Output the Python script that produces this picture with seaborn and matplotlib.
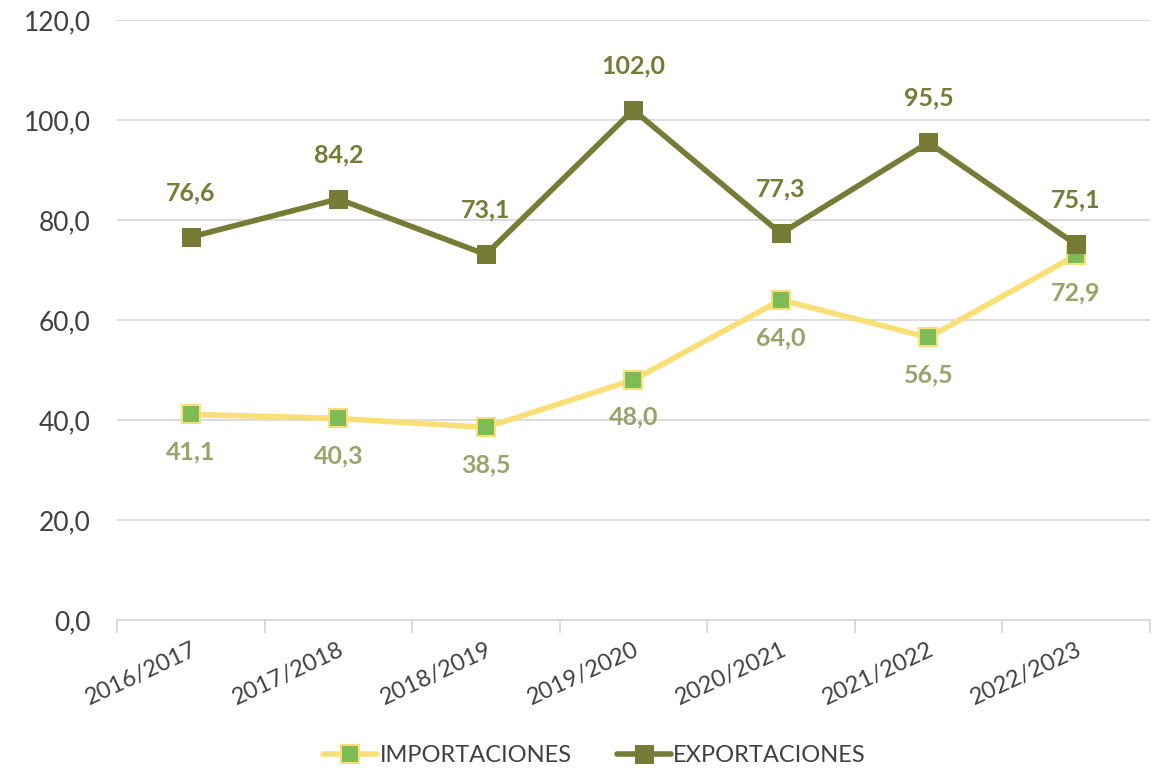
import pandas as pd
import numpy as np
import seaborn as sns
import matplotlib.pyplot as plt

campanas = ['2016/2017', '2017/2018', '2018/2019', '2019/2020',
            '2020/2021', '2021/2022', '2022/2023']
importaciones = [41.1, 40.3, 38.5, 48.0, 64.0, 56.5, 72.9]
exportaciones = [76.6, 84.2, 73.1, 102.0, 77.3, 95.5, 75.1]

df = pd.DataFrame({'campana': campanas,
                   'IMPORTACIONES': importaciones,
                   'EXPORTACIONES': exportaciones})

sns.set_theme(style='white')
plt.rcParams['font.family'] = ['Lato', 'DejaVu Sans']

fig, ax = plt.subplots(figsize=(11.59, 7.70), dpi=100)
fig.subplots_adjust(left=0.101, right=0.992, top=0.974, bottom=0.195)

sns.lineplot(data=df, x='campana', y='IMPORTACIONES', ax=ax, color='#F9DF75',
             linewidth=4, marker='s', markersize=13, markerfacecolor='#7CBB55',
             markeredgecolor='#F9DF75', markeredgewidth=1.5, label='IMPORTACIONES',
             zorder=3)
sns.lineplot(data=df, x='campana', y='EXPORTACIONES', ax=ax, color='#767B35',
             linewidth=4, marker='s', markersize=13, markerfacecolor='#767B35',
             markeredgecolor='#767B35', label='EXPORTACIONES', zorder=4)

for i, v in enumerate(importaciones):
    ax.annotate(f'{v:.1f}'.replace('.', ','), (i, v), xytext=(0, -27),
                textcoords='offset points', ha='center', va='center',
                fontsize=18, fontweight='bold', color='#9AA46A')
for i, v in enumerate(exportaciones):
    ax.annotate(f'{v:.1f}'.replace('.', ','), (i, v), xytext=(0, 32),
                textcoords='offset points', ha='center', va='center',
                fontsize=18, fontweight='bold', color='#767B35')

ax.set_ylim(0, 120)
ax.set_xlim(-0.5, 6.5)
ax.set_yticks(np.arange(0, 121, 20))
ax.set_yticklabels([f'{t:.1f}'.replace('.', ',') for t in np.arange(0, 121, 20)],
                   fontsize=19, color='#404040')
ax.yaxis.grid(True, color='#D9D9D9', linewidth=1.3)
ax.set_axisbelow(True)

ax.set_xticks(range(len(campanas)))
ax.set_xticklabels(campanas, rotation=25, ha='right', rotation_mode='anchor',
                   fontsize=17, color='#404040')
ax.tick_params(axis='x', which='major', bottom=True, length=0, pad=14)
ax.tick_params(axis='y', length=0, pad=19)
ax.set_xticks(np.arange(-0.5, 7, 1), minor=True)
ax.tick_params(axis='x', which='minor', bottom=True, length=9, color='#D9D9D9',
               width=1.3, direction='out')
ax.set_xlabel('')
ax.set_ylabel('')

for s in ['top', 'right', 'left']:
    ax.spines[s].set_visible(False)
ax.spines['bottom'].set_color('#D9D9D9')
ax.spines['bottom'].set_linewidth(1.3)

ax.legend(loc='center', bbox_to_anchor=(0.513, 0.019),
          bbox_transform=fig.transFigure, ncol=2, frameon=False, fontsize=17,
          handlelength=2.3, columnspacing=1.9, handletextpad=0.1,
          labelcolor='#404040')

fig.savefig('out.png', dpi=100)
